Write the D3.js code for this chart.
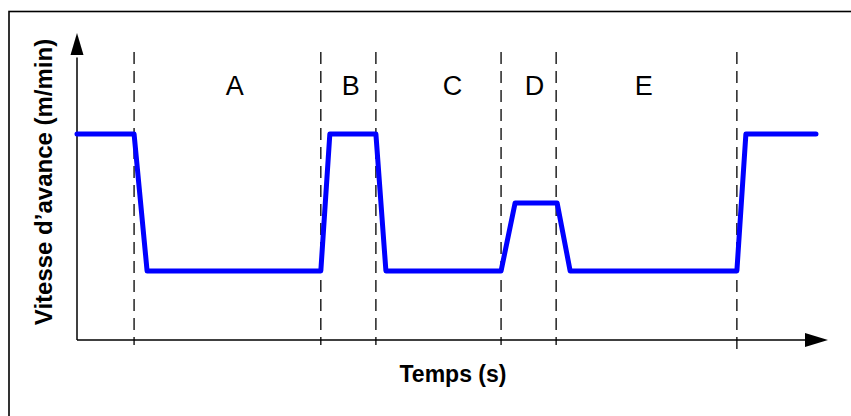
<!DOCTYPE html>
<html>
<head>
<meta charset="utf-8">
<script src="https://cdn.jsdelivr.net/npm/d3@7"></script>
<style>
  html, body { margin: 0; padding: 0; background: #fff; }
  svg { display: block; }
  text { font-family: "Liberation Sans", Arial, sans-serif; fill: #000; }
</style>
</head>
<body>
<script>
// Feed-rate profile over time: each point is [time, speed]
const profileTimes  = [0, 11.4, 14.0, 48.7, 50.5, 59.7, 61.7, 84.7, 87.5, 95.9, 98.5, 131.8, 133.6, 147.6];
const profileSpeeds = [67.1, 67.1, 22.5, 22.5, 67.1, 67.1, 22.5, 22.5, 44.6, 44.6, 22.5, 22.5, 67.1, 67.1];

// Phase boundaries and phase names
const phaseBounds = [11.4, 48.7, 59.7, 84.7, 95.7, 131.8];
const phaseNames  = ["A", "B", "C", "D", "E"];
const phaseLabelTimes = [31.5, 54.7, 75.0, 91.4, 113.2];

const xTitle = "Temps (s)";
const yTitle = "Vitesse d\u2019avance (m/min)";

const W = 851, H = 416;
const svg = d3.select("body").append("svg").attr("width", W).attr("height", H);

const x = d3.scaleLinear().domain([0, 150]).range([77, 828]);
const y = d3.scaleLinear().domain([0, 100]).range([340, 33]);

// outer frame
svg.append("rect")
  .attr("x", 9).attr("y", 11.5).attr("width", 900).attr("height", 500)
  .attr("fill", "none").attr("stroke", "#000").attr("stroke-width", 1.6);

// phase dividers
svg.append("g").selectAll("line").data(phaseBounds).join("line")
  .attr("x1", d => x(d)).attr("x2", d => x(d))
  .attr("y1", 52)
  .attr("y2", (d, i) => i === phaseBounds.length - 1 ? 356 : 345)
  .attr("stroke", "#000").attr("stroke-width", 1.3)
  .attr("stroke-dasharray", "12,7");

// axes with arrowheads
const x0 = x(0), y0 = y(0);
svg.append("line").attr("x1", x0).attr("x2", x0).attr("y1", y0).attr("y2", y(92))
  .attr("stroke", "#000").attr("stroke-width", 1.5);
svg.append("line").attr("x1", x0).attr("x2", x(146)).attr("y1", y0).attr("y2", y0)
  .attr("stroke", "#000").attr("stroke-width", 1.5);
svg.append("path")
  .attr("d", `M${x0},${y(100)} L${x0 - 6.5},${y(100) + 22} L${x0 + 6.5},${y(100) + 22} Z`)
  .attr("fill", "#000");
svg.append("path")
  .attr("d", `M${x(150)},${y0} L${x(150) - 23},${y0 - 7} L${x(150) - 23},${y0 + 7} Z`)
  .attr("fill", "#000");

// speed profile
const pts = profileTimes.map((t, i) => [t, profileSpeeds[i]]);
svg.append("path")
  .datum(pts)
  .attr("d", d3.line().x(d => x(d[0])).y(d => y(d[1])))
  .attr("fill", "none").attr("stroke", "#0000ff").attr("stroke-width", 5)
  .attr("stroke-linejoin", "round").attr("stroke-linecap", "round");

// phase labels
svg.append("g").selectAll("text").data(phaseNames).join("text")
  .attr("x", (d, i) => x(phaseLabelTimes[i]))
  .attr("y", 95)
  .attr("text-anchor", "middle")
  .attr("font-size", 27)
  .text(d => d);

// axis titles
svg.append("text")
  .attr("x", 453).attr("y", 382)
  .attr("text-anchor", "middle")
  .attr("font-size", 23).attr("font-weight", "bold")
  .text(xTitle);
svg.append("text")
  .attr("transform", "translate(52,182) rotate(-90)")
  .attr("text-anchor", "middle")
  .attr("font-size", 24).attr("font-weight", "bold")
  .text(yTitle);
</script>
</body>
</html>
